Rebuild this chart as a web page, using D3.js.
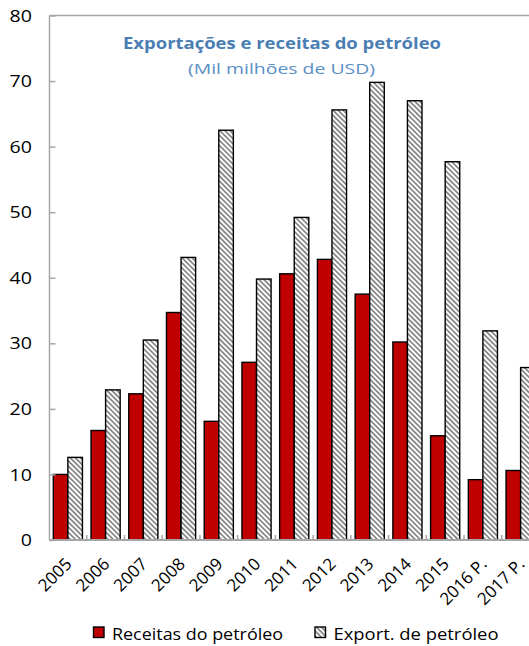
<!DOCTYPE html>
<html>
<head>
<meta charset="utf-8">
<script src="https://cdn.jsdelivr.net/npm/d3@7"></script>
<style>
  html, body { margin: 0; padding: 0; background: #fff; }
  svg { display: block; }
</style>
</head>
<body>
<svg id="chart" width="529" height="646"></svg>
<script>
// Oil revenues vs oil exports, billions of USD
const years = ["2005","2006","2007","2008","2009","2010","2011","2012","2013","2014","2015","2016 P.","2017 P."];
const receitas = [10.0, 16.7, 22.3, 34.7, 18.1, 27.1, 40.6, 42.8, 37.5, 30.2, 15.9, 9.2, 10.6];
const exportacoes = [12.6, 22.9, 30.5, 43.1, 62.5, 39.8, 49.2, 65.6, 69.8, 67.0, 57.7, 31.9, 26.3];
const seriesNames = ["Receitas do petróleo", "Export. de petróleo"];
const yTicks = [0, 10, 20, 30, 40, 50, 60, 70, 80];
const title = "Exportações e receitas do petróleo";
const subtitle = "(Mil milhões de USD)";

const font = "'Open Sans', 'Noto Sans', sans-serif";
const svg = d3.select("#chart");

const plot = { left: 49.5, top: 15.5, bottom: 540, right: 49.0 + 13 * 37.73 };

const x0 = d3.scaleBand().domain(years).range([49.0, plot.right]).paddingInner(0).paddingOuter(0);
const x1 = d3.scaleBand().domain(seriesNames).range([4.3, x0.bandwidth() - 4.3]);
const y = d3.scaleLinear().domain([0, 80]).range([plot.bottom, plot.top]);

// Diagonal hatch for the exports series
const defs = svg.append("defs");
const pat = defs.append("pattern")
  .attr("id", "hatch")
  .attr("patternUnits", "userSpaceOnUse")
  .attr("width", 3.6).attr("height", 3.6)
  .attr("patternTransform", "rotate(-45)");
pat.append("rect").attr("width", 3.6).attr("height", 3.6).attr("fill", "#fff");
pat.append("rect").attr("x", 0).attr("y", 0).attr("width", 1.8).attr("height", 3.6).attr("fill", "#8a8a8a");

const fills = { [seriesNames[0]]: "#c00000", [seriesNames[1]]: "url(#hatch)" };
const values = { [seriesNames[0]]: receitas, [seriesNames[1]]: exportacoes };

// Frame: top border and axes in gray
const axisColor = "#a6a6a6";
svg.append("line")
  .attr("x1", plot.left).attr("x2", 529).attr("y1", plot.top).attr("y2", plot.top)
  .attr("stroke", axisColor).attr("stroke-width", 1.5);

// Bars
const groups = svg.append("g").selectAll("g")
  .data(years).join("g")
  .attr("transform", d => `translate(${x0(d)},0)`);

groups.selectAll("rect")
  .data((d, i) => seriesNames.map(s => ({ s, v: values[s][i] })))
  .join("rect")
  .attr("x", d => x1(d.s))
  .attr("width", x1.bandwidth())
  .attr("y", d => y(d.v))
  .attr("height", d => y(0) - y(d.v))
  .attr("fill", d => fills[d.s])
  .attr("stroke", "#000")
  .attr("stroke-width", 1.4);

// Y axis
const yAxis = svg.append("g")
  .attr("transform", `translate(${plot.left},0)`)
  .call(d3.axisRight(y).tickValues(yTicks).tickSize(6).tickFormat(""));
yAxis.select(".domain").attr("stroke", axisColor).attr("stroke-width", 1.5)
  .attr("d", `M0,${plot.top}V${plot.bottom}`);
yAxis.selectAll(".tick line").attr("stroke", axisColor).attr("stroke-width", 1.5);

svg.append("g").selectAll("text")
  .data(yTicks).join("text")
  .attr("x", 32)
  .attr("y", d => y(d))
  .attr("dy", "0.36em")
  .attr("text-anchor", "end")
  .attr("font-family", font)
  .attr("font-size", 17)
  .attr("fill", "#000")
  .attr("textLength", d => String(d).length * 11.2)
  .attr("lengthAdjust", "spacingAndGlyphs")
  .text(d => d);

// X axis: baseline with inward category separators
const xAxis = svg.append("g")
  .attr("transform", `translate(0,${plot.bottom})`);
xAxis.append("line")
  .attr("x1", plot.left).attr("x2", 529)
  .attr("stroke", axisColor).attr("stroke-width", 2);
xAxis.selectAll("line.sep")
  .data(years.slice(1)).join("line")
  .attr("class", "sep")
  .attr("x1", d => x0(d)).attr("x2", d => x0(d))
  .attr("y1", 0).attr("y2", -5)
  .attr("stroke", axisColor).attr("stroke-width", 1.5);

xAxis.selectAll("text")
  .data(years).join("text")
  .attr("transform", d => `translate(${x0(d) + x0.bandwidth() / 2 + 5},${25}) rotate(-45)`)
  .attr("text-anchor", "end")
  .attr("font-family", font)
  .attr("font-size", 17)
  .attr("fill", "#000")
  .text(d => d);

// Title
svg.append("text")
  .attr("x", 282).attr("y", 49)
  .attr("text-anchor", "middle")
  .attr("font-family", font)
  .attr("font-weight", "bold")
  .attr("font-size", 15.5)
  .attr("fill", "#4a7eb3")
  .attr("textLength", 318)
  .attr("lengthAdjust", "spacingAndGlyphs")
  .text(title);
svg.append("text")
  .attr("x", 281.5).attr("y", 73.5)
  .attr("text-anchor", "middle")
  .attr("font-family", font)
  .attr("font-size", 15)
  .attr("fill", "#5a8fc6")
  .attr("textLength", 187)
  .attr("lengthAdjust", "spacingAndGlyphs")
  .text(subtitle);

// Legend
const legendX = [93.5, 315];
const legendW = [171, 165];
const legend = svg.append("g").selectAll("g")
  .data(seriesNames).join("g")
  .attr("transform", (d, i) => `translate(${legendX[i]},627)`);
legend.append("rect")
  .attr("width", 10.5).attr("height", 10.5)
  .attr("fill", d => fills[d])
  .attr("stroke", "#000").attr("stroke-width", 1.4);
legend.append("text")
  .attr("x", 18.5).attr("y", 13)
  .attr("font-family", font)
  .attr("font-size", 16)
  .attr("fill", "#000")
  .attr("textLength", (d, i) => legendW[i])
  .attr("lengthAdjust", "spacingAndGlyphs")
  .text(d => d);
</script>
</body>
</html>
